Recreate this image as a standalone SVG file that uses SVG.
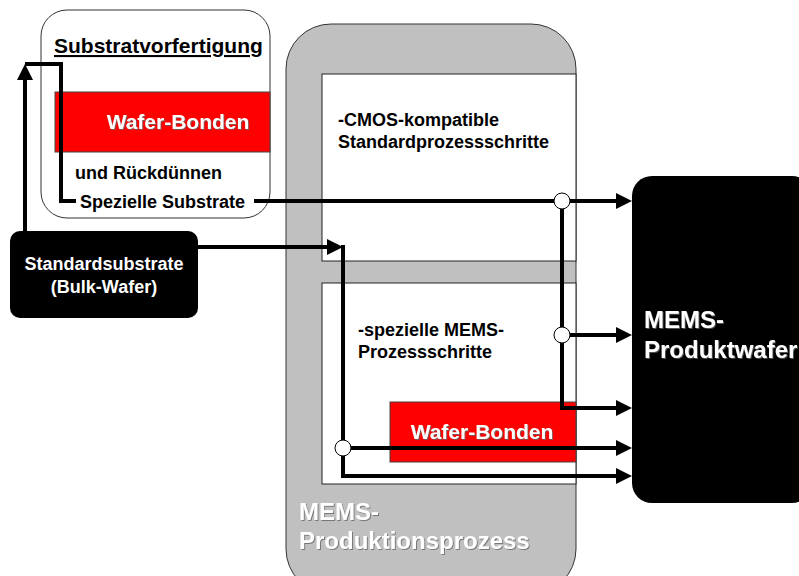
<svg xmlns="http://www.w3.org/2000/svg" width="799" height="576" viewBox="0 0 799 576">
<style>
text{font-family:"Liberation Sans",Arial,sans-serif;font-weight:bold}
.blk{fill:#000;font-size:18px}
.wht{fill:#fff}
.shadow{filter:url(#sh)}
.box{fill:#fff;stroke:#222;stroke-width:1}
.red{fill:#ff0000;stroke:#444;stroke-width:1}
.con{fill:none;stroke:#000;stroke-width:4}
.jn{fill:#fff;stroke:#000;stroke-width:1}
</style>
<defs>
<marker id="ah" viewBox="0 0 16 16" refX="8" refY="8" markerWidth="16" markerHeight="16" markerUnits="userSpaceOnUse" orient="auto">
<path d="M0,0 L16,8 L0,16 z" fill="#000"/>
</marker>
<filter id="sh" x="-5%" y="-20%" width="110%" height="140%">
<feDropShadow dx="1" dy="1" stdDeviation="0.6" flood-color="#666" flood-opacity="0.8"/>
</filter>
</defs>
<g id="produktionsprozess">
<rect x="286" y="24" width="290" height="570" rx="45" ry="45" fill="#c0c0c0" stroke="#333" stroke-width="1"/>
<text class="wht shadow" x="299" y="520" font-size="24">MEMS-</text>
<text class="wht shadow" x="299" y="549" font-size="24">Produktionsprozess</text>
</g>
<g id="cmos">
<rect class="box" x="322" y="74" width="254" height="187"/>
<text class="blk" x="338" y="126">-CMOS-kompatible</text>
<text class="blk" x="338" y="148">Standardprozessschritte</text>
</g>
<g id="mems-schritte">
<rect class="box" x="322" y="283" width="254" height="201"/>
<text class="blk" x="358" y="336">-spezielle MEMS-</text>
<text class="blk" x="358" y="358">Prozessschritte</text>
</g>
<g id="wafer-bonden-2">
<rect class="red" x="390" y="402" width="186" height="60"/>
<text class="wht shadow" x="482" y="439" font-size="21" text-anchor="middle">Wafer-Bonden</text>
</g>
<g id="substratvorfertigung">
<rect x="41" y="10" width="229" height="208" rx="26" ry="26" fill="#fff" stroke="#333" stroke-width="1"/>
<text x="54" y="53" font-size="21" fill="#000" text-decoration="underline">Substratvorfertigung</text>
<rect class="red" x="55" y="92" width="215" height="60"/>
<text class="wht shadow" x="178" y="129" font-size="21" text-anchor="middle">Wafer-Bonden</text>
<text class="blk" x="75" y="179">und Rückdünnen</text>
<text class="blk" x="80" y="208">Spezielle Substrate</text>
</g>
<g id="standardsubstrate">
<rect x="10" y="231" width="188" height="87" rx="10" ry="10" fill="#000"/>
<text class="wht" x="104" y="270" font-size="18" text-anchor="middle">Standardsubstrate</text>
<text class="wht" x="104" y="293" font-size="18" text-anchor="middle">(Bulk-Wafer)</text>
</g>
<g id="connectors">
<path class="con" d="M25,231 V72" marker-end="url(#ah)"/>
<path class="con" d="M25,64 H61 V201 H76"/>
<path class="con" d="M254,201 H624" marker-end="url(#ah)"/>
<path class="con" d="M198,247 H335" marker-end="url(#ah)"/>
<path class="con" d="M343,245 V476 H624" marker-end="url(#ah)"/>
<path class="con" d="M343,448 H624" marker-end="url(#ah)"/>
<path class="con" d="M562,201 V408 H624" marker-end="url(#ah)"/>
<path class="con" d="M562,335 H624" marker-end="url(#ah)"/>
<circle class="jn" cx="562" cy="201" r="8"/>
<circle class="jn" cx="562" cy="335" r="8"/>
<circle class="jn" cx="343" cy="448" r="8"/>
</g>
<g id="produktwafer">
<rect x="632" y="176" width="180" height="327" rx="20" ry="20" fill="#000"/>
<text class="wht shadow" x="644" y="328" font-size="24">MEMS-</text>
<text class="wht shadow" x="644" y="358" font-size="24">Produktwafer</text>
</g>
</svg>
